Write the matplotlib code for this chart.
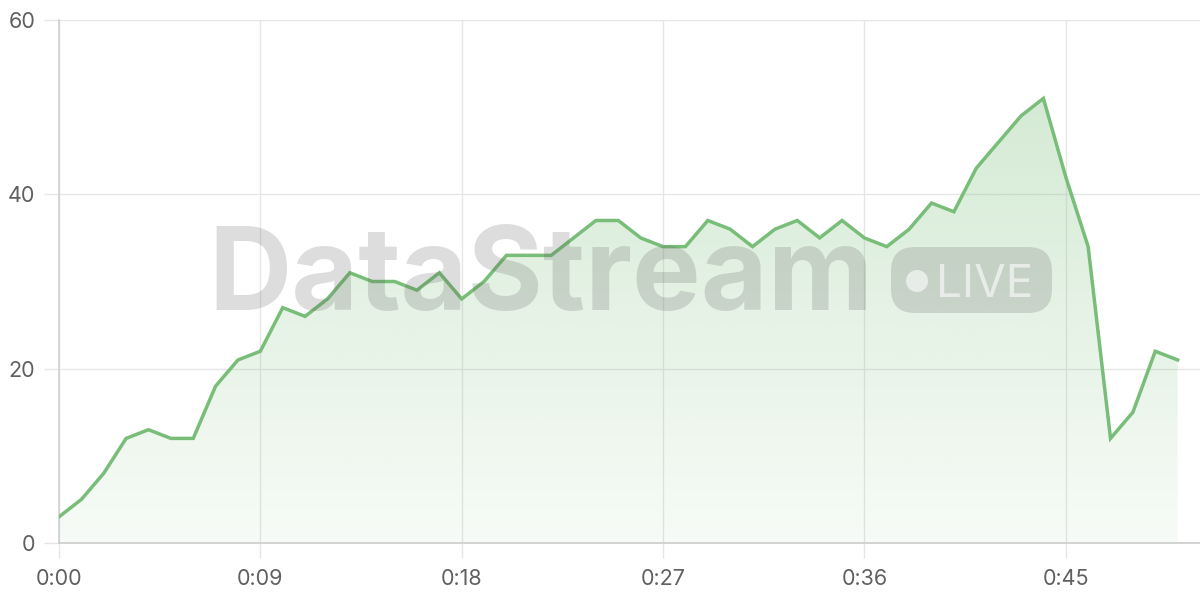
import matplotlib
matplotlib.use("Agg")
import matplotlib.pyplot as plt
import numpy as np
from matplotlib.patches import Polygon, FancyBboxPatch, Circle

minutes = list(range(51))
values = [3, 5, 8, 12, 13, 12, 12, 18, 21, 22,
          27, 26, 28, 31, 30, 30, 29, 31, 28, 30,
          33, 33, 33, 35, 37, 37, 35, 34, 34, 37,
          36, 34, 36, 37, 35, 37, 35, 34, 36, 39,
          38, 43, 46, 49, 51, 42, 34, 12, 15, 22, 21]
xtick_pos = [0, 9, 18, 27, 36, 45]
xtick_labels = ["0:00", "0:09", "0:18", "0:27", "0:36", "0:45"]
ytick_pos = [0, 20, 40, 60]

LINE = "#78bd78"
plt.rcParams['font.family'] = ['Inter', 'DejaVu Sans']

fig = plt.figure(figsize=(12, 6), dpi=100)
ax = fig.add_axes([59/1200, 57/600, 1141/1200, 523/600])
ax.set_xlim(0, 51)
ax.set_ylim(0, 60)

# gradient fill
x = np.array(minutes, dtype=float)
y = np.array(values, dtype=float)
verts = np.vstack([np.column_stack([x, y]), [[x[-1], 0], [x[0], 0]]])
poly = Polygon(verts, closed=True, facecolor='none', edgecolor='none')
ax.add_patch(poly)
n = 256
alphas = np.linspace(0.06, 0.36, n)
rgb = matplotlib.colors.to_rgb(LINE)
grad = np.zeros((n, 2, 4))
grad[..., 0] = rgb[0]; grad[..., 1] = rgb[1]; grad[..., 2] = rgb[2]
grad[..., 3] = alphas[:, None]
im = ax.imshow(grad, extent=[x[0], x[-1], 0, 60], origin='lower', aspect='auto',
               zorder=1, interpolation='bilinear')
im.set_clip_path(poly)

ax.plot(x, y, color=LINE, lw=2.5, zorder=5, solid_joinstyle='miter')

ax.set_xticks(xtick_pos)
ax.set_xticklabels(xtick_labels)
ax.set_yticks(ytick_pos)
ax.grid(True, color="#e6e6e6", lw=1, zorder=0)
ax.set_axisbelow(True)
for s in ['top', 'right']:
    ax.spines[s].set_visible(False)
ax.spines['left'].set_color('#d0d0d0')
ax.spines['bottom'].set_color('#cccccc')
ax.spines['left'].set_linewidth(1.2)
ax.spines['bottom'].set_linewidth(1.2)
ax.tick_params(axis='x', length=11, width=1, color='#e6e6e6', pad=8,
               labelsize=15.5, labelcolor='#606060')
ax.tick_params(axis='y', length=11, width=1, color='#e6e6e6', pad=6,
               labelsize=15.5, labelcolor='#606060')

# watermark overlay in pixel units
ov = fig.add_axes([0, 0, 1, 1], zorder=3)
ov.set_xlim(0, 1200)
ov.set_ylim(600, 0)
ov.axis('off')
ov.patch.set_alpha(0)
wm_color = (0.35, 0.35, 0.35, 0.2)
ov.text(208, 310, "DataStream", fontsize=83, fontweight='bold',
        color=wm_color, ha='left', va='baseline')
pill = FancyBboxPatch((891, 247), 161, 66,
                      boxstyle="round,pad=0,rounding_size=24",
                      facecolor=wm_color, edgecolor='none')
ov.add_patch(pill)
ov.add_patch(Circle((917, 281), 11, facecolor=(1, 1, 1, 0.6), edgecolor='none'))
ov.text(936, 297, "LIVE", fontsize=33, color=(1, 1, 1, 0.6),
        ha='left', va='baseline')

fig.savefig("out.png", dpi=100)
